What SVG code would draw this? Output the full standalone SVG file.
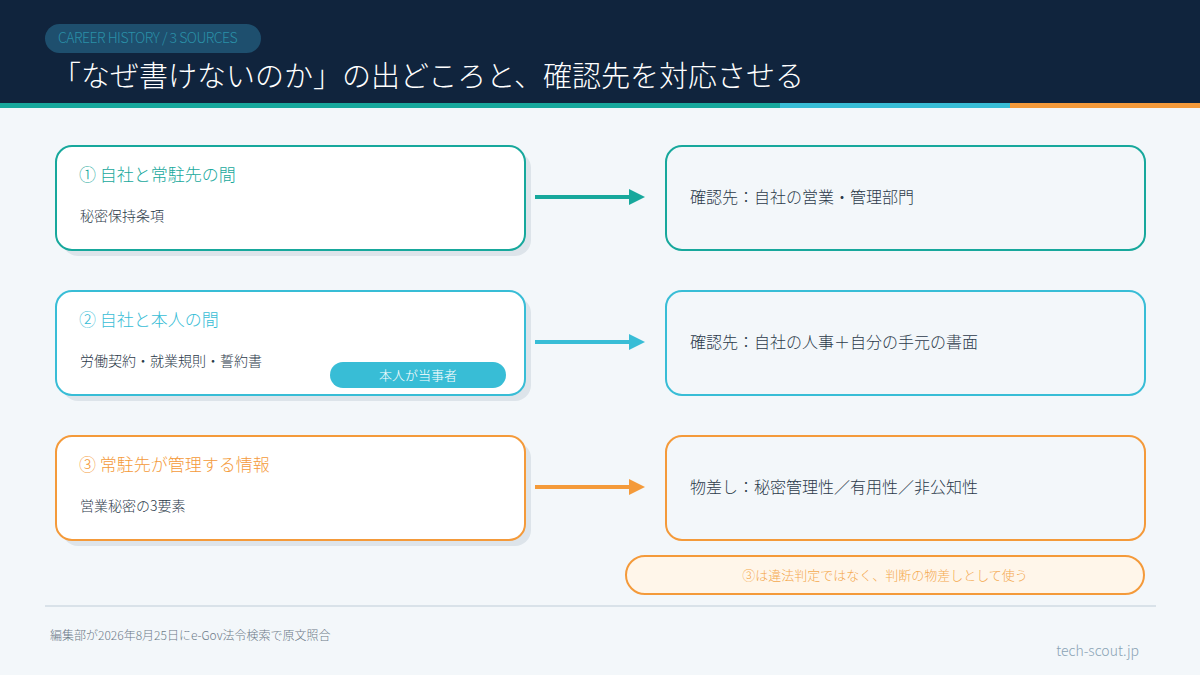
<svg xmlns="http://www.w3.org/2000/svg" width="1200" height="675" viewBox="0 0 1200 675">
<style>
text{font-family:"Noto Sans CJK JP","Noto Sans",sans-serif;font-weight:300}
.card{fill:#fff;stroke-width:2}
.sh{fill:#dde4ea}
.t{font-size:17px}
.b{font-size:14px;fill:#2c3a4a}
.r{font-size:16px;fill:#2c3a4a}
</style>
<defs>
<marker id="mt" markerWidth="4" markerHeight="4" refX="3" refY="2" orient="auto" markerUnits="strokeWidth"><path d="M0,0L4,2L0,4z" fill="#17a89c"/></marker>
<marker id="mb" markerWidth="4" markerHeight="4" refX="3" refY="2" orient="auto" markerUnits="strokeWidth"><path d="M0,0L4,2L0,4z" fill="#38bdd6"/></marker>
<marker id="mo" markerWidth="4" markerHeight="4" refX="3" refY="2" orient="auto" markerUnits="strokeWidth"><path d="M0,0L4,2L0,4z" fill="#f49a3a"/></marker>
</defs>
<rect width="1200" height="675" fill="#f3f7fa"/>
<rect width="1200" height="104" fill="#10243d"/>
<rect y="103" width="780" height="5" fill="#17a89c"/>
<rect x="780" y="103" width="230" height="5" fill="#38bdd6"/>
<rect x="1010" y="103" width="190" height="5" fill="#f49a3a"/>
<rect x="45" y="24" width="216" height="29" rx="14.5" fill="#1e4f6e"/>
<text x="58" y="43" font-size="14" fill="#2a8fa8" style="letter-spacing:-0.5px">CAREER HISTORY / 3 SOURCES</text>
<text x="52" y="87" font-size="29" fill="#ffffff">「なぜ書けないのか」の出どころと、確認先を対応させる</text>

<g id="src1"><rect class="sh" x="62" y="152" width="469" height="104" rx="16"/><rect class="card" x="56" y="146" width="469" height="104" rx="16" stroke="#17a89c"/><text class="t" x="79" y="181" fill="#17a89c">① 自社と常駐先の間</text><text class="b" x="80" y="221">秘密保持条項</text></g>
<g id="src2"><rect class="sh" x="62" y="297" width="469" height="104" rx="16"/><rect class="card" x="56" y="291" width="469" height="104" rx="16" stroke="#38bdd6"/><text class="t" x="79" y="326" fill="#38bdd6">② 自社と本人の間</text><text class="b" x="80" y="366">労働契約・就業規則・誓約書</text>
<rect x="330" y="362" width="176" height="26" rx="13" fill="#38bdd6"/><text x="418" y="380" font-size="13" fill="#fff" text-anchor="middle">本人が当事者</text></g>
<g id="src3"><rect class="sh" x="62" y="442" width="469" height="104" rx="16"/><rect class="card" x="56" y="436" width="469" height="104" rx="16" stroke="#f49a3a"/><text class="t" x="79" y="471" fill="#f49a3a">③ 常駐先が管理する情報</text><text class="b" x="80" y="511">営業秘密の3要素</text></g>

<g id="dst1"><rect x="666" y="146" width="479" height="104" rx="16" fill="#f3f7fa" stroke="#17a89c" stroke-width="2"/><text class="r" x="690" y="203">確認先：自社の営業・管理部門</text></g>
<g id="dst2"><rect x="666" y="291" width="479" height="104" rx="16" fill="#f3f7fa" stroke="#38bdd6" stroke-width="2"/><text class="r" x="690" y="348">確認先：自社の人事＋自分の手元の書面</text></g>
<g id="dst3"><rect x="666" y="436" width="479" height="104" rx="16" fill="#f3f7fa" stroke="#f49a3a" stroke-width="2"/><text class="r" x="690" y="493">物差し：秘密管理性／有用性／非公知性</text></g>

<g id="connectors" stroke-width="4">
<line x1="535" y1="197" x2="641" y2="197" stroke="#17a89c" marker-end="url(#mt)"/>
<line x1="535" y1="342" x2="641" y2="342" stroke="#38bdd6" marker-end="url(#mb)"/>
<line x1="535" y1="487" x2="641" y2="487" stroke="#f49a3a" marker-end="url(#mo)"/>
</g>

<g id="note"><rect x="626" y="556" width="518" height="38" rx="19" fill="#fff6ea" stroke="#f49a3a" stroke-width="2"/><text x="885" y="580" font-size="13" fill="#f4a94f" text-anchor="middle">③は違法判定ではなく、判断の物差しとして使う</text></g>
<rect x="45" y="605" width="1111" height="2" fill="#d9e2e9"/>
<text x="50" y="640" font-size="12" fill="#6c7a88">編集部が2026年8月25日にe-Gov法令検索で原文照合</text>
<text x="1139" y="656" font-size="14" fill="#8aa3b5" text-anchor="end">tech-scout.jp</text>
</svg>
